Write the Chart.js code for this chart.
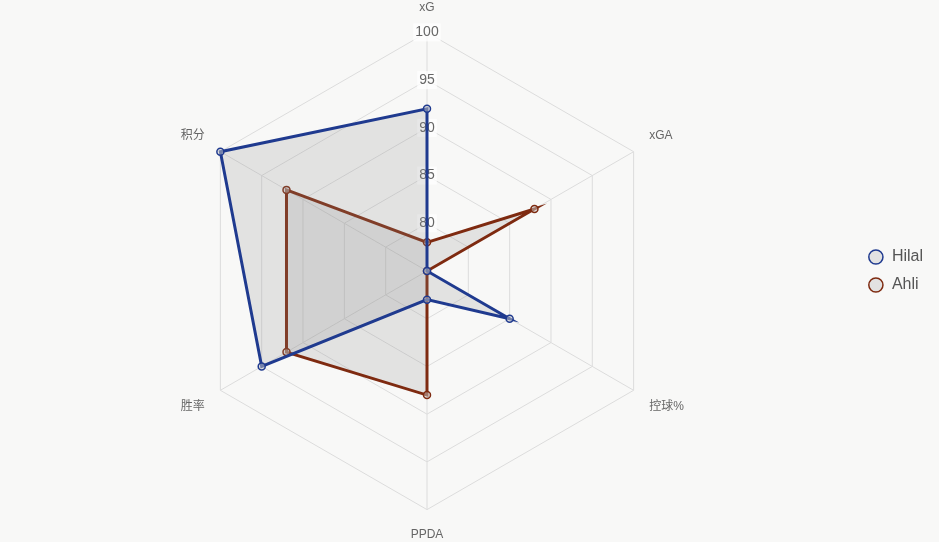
<!DOCTYPE html>
<html>
<head>
<meta charset="utf-8">
<script src="https://cdn.jsdelivr.net/npm/chart.js@4"></script>
<style>
html,body{margin:0;padding:0;background:#f8f8f7;}
#wrap{width:939px;height:542px;}
</style>
</head>
<body>
<div id="wrap"><canvas id="c" width="939" height="542"></canvas></div>
<script>
const categories = ['xG', 'xGA', '控球%', 'PPDA', '胜率', '积分'];
const hilal = [92, 75, 85, 78, 95, 100];
const ahli = [78, 88, 75, 88, 92, 92];
const seriesNames = ['Hilal', 'Ahli'];

new Chart(document.getElementById('c'), {
  type: 'radar',
  data: {
    labels: categories,
    datasets: [
      {
        label: seriesNames[0],
        data: hilal,
        borderColor: '#1f3a8f',
        backgroundColor: 'rgba(140,140,140,0.2)',
        pointBackgroundColor: 'rgba(200,200,200,0.5)',
        pointBorderColor: '#1f3a8f',
        borderWidth: 3,
        pointRadius: 3.5,
        pointBorderWidth: 1.5,
        fill: true
      },
      {
        label: seriesNames[1],
        data: ahli,
        borderColor: '#7e2a10',
        backgroundColor: 'rgba(140,140,140,0.2)',
        pointBackgroundColor: 'rgba(200,200,200,0.5)',
        pointBorderColor: '#7e2a10',
        borderWidth: 3,
        pointRadius: 3.5,
        pointBorderWidth: 1.5,
        fill: true
      }
    ]
  },
  options: {
    responsive: false,
    animation: false,
    layout: { padding: { top: 0, bottom: 0, left: 0, right: 6 } },
    plugins: {
      legend: {
        position: 'right',
        labels: {
          usePointStyle: true,
          pointStyle: 'circle',
          boxWidth: 16,
          boxHeight: 10,
          font: { size: 16, family: 'Liberation Sans, Arial, sans-serif' },
          color: '#555',
          padding: 12,
          generateLabels: (chart) => {
            const items = Chart.defaults.plugins.legend.labels.generateLabels(chart);
            items.forEach(it => { it.lineWidth = 1.5; it.fillStyle = '#e2e2e2'; });
            return items;
          }
        }
      },
      tooltip: { enabled: false }
    },
    scales: {
      r: {
        min: 75,
        max: 100,
        beginAtZero: false,
        ticks: {
          stepSize: 5,
          color: '#666',
          font: { size: 14, family: 'Liberation Sans, Arial, sans-serif' },
          backdropColor: 'rgba(255,255,255,0.75)'
        },
        grid: { color: '#dcdcdc' },
        angleLines: { color: '#dcdcdc' },
        pointLabels: {
          color: '#666',
          padding: 9,
          font: { size: 12, family: 'Liberation Sans, "Noto Sans CJK SC", sans-serif' }
        }
      }
    }
  }
});
</script>
</body>
</html>
